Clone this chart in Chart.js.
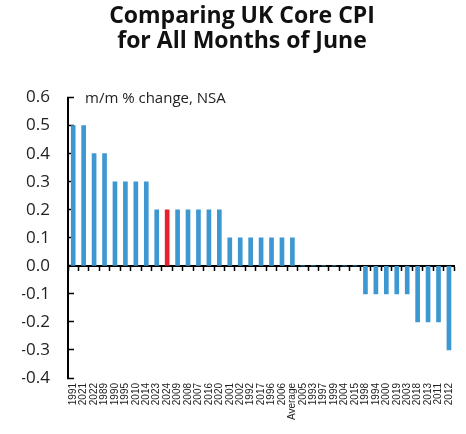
<!DOCTYPE html>
<html>
<head>
<meta charset="utf-8">
<script src="https://cdn.jsdelivr.net/npm/chart.js@4.4.1/dist/chart.umd.min.js"></script>
<style>
  html, body { margin: 0; padding: 0; background: #fff; }
  #wrap { width: 466px; height: 434px; }
</style>
</head>
<body>
<div id="wrap"><canvas id="cpiChart"></canvas></div>
<script>
// June core CPI m/m % change, sorted high to low
const years = ["1991", "2021", "2022", "1989", "1990", "1995", "2010", "2014", "2023", "2024",
               "2009", "2008", "2007", "2016", "2020", "2001", "2002", "1992", "2017", "1996",
               "2006", "Average", "2005", "1993", "1997", "1999", "2004", "2015", "1998", "1994",
               "2000", "2019", "2003", "2018", "2013", "2011", "2012"];
const changes = [0.5, 0.5, 0.4, 0.4, 0.3, 0.3, 0.3, 0.3, 0.2, 0.2,
                 0.2, 0.2, 0.2, 0.2, 0.2, 0.1, 0.1, 0.1, 0.1, 0.1,
                 0.1, 0.1, 0, 0, 0, 0, 0, 0, -0.1, -0.1,
                 -0.1, -0.1, -0.1, -0.2, -0.2, -0.2, -0.3];
const highlightYear = "2024";
const yTicks = [-0.4, -0.3, -0.2, -0.1, 0.0, 0.1, 0.2, 0.3, 0.4, 0.5, 0.6];

const BLUE = "#3d97d0";
const RED = "#e8202d";

// unit note inside the plot, top left
const unitNote = {
    id: "unitNote",
    afterDraw(chart) {
        const { ctx, chartArea } = chart;
        ctx.save();
        ctx.font = "15px 'Open Sans'";
        ctx.fillStyle = "#222";
        ctx.textBaseline = "middle";
        ctx.fillText("m/m % change, NSA", chartArea.left + 17, chartArea.top + 1);
        ctx.restore();
    }
};

const ctx = document.getElementById("cpiChart").getContext("2d");
new Chart(ctx, {
    type: "bar",
    data: {
        labels: years,
        datasets: [{
            data: changes,
            backgroundColor: years.map(y => y === highlightYear ? RED : BLUE),
            barThickness: 4
        }]
    },
    options: {
        responsive: true,
        maintainAspectRatio: false,
        animation: false,
        layout: { padding: { left: 22, right: 4, top: 0, bottom: 4 } },
        plugins: {
            legend: { display: false },
            tooltip: { enabled: false },
            title: {
                display: true,
                text: ["Comparing UK Core CPI", "for All Months of June"],
                color: "#111",
                font: { family: "'Open Sans'", size: 23, weight: "bold", lineHeight: 1.1 },
                padding: { top: 4, bottom: 43 }
            }
        },
        scales: {
            x: {
                type: "category",
                position: "bottom",
                offset: true,
                grid: { display: false, drawTicks: false },
                border: { display: false },
                ticks: {
                    autoSkip: false,
                    maxRotation: 90,
                    minRotation: 90,
                    padding: 5,
                    color: "#222",
                    font: { family: "'Liberation Sans'", size: 10 }
                },
                afterFit: s => { s.height = 52; }
            },
            x2: {
                type: "category",
                labels: years,
                position: { y: 0 },
                offset: true,
                grid: { drawOnChartArea: false, offset: true, tickLength: 4, tickColor: "#000", tickWidth: 1.5 },
                border: { color: "#000", width: 2 },
                ticks: { display: false }
            },
            y: {
                min: -0.4,
                max: 0.6,
                afterBuildTicks: s => { s.ticks = yTicks.map(v => ({ value: v })); },
                grid: { drawOnChartArea: false, tickLength: -6, tickColor: "#000", tickWidth: 1.5 },
                border: { color: "#000", width: 2 },
                ticks: {
                    padding: 24,
                    color: "#222",
                    font: { family: "'Open Sans'", size: 17 },
                    callback: v => Number(v).toFixed(1)
                },
                afterFit: s => { s.width = 46; }
            }
        }
    },
    plugins: [unitNote]
});
</script>
</body>
</html>
